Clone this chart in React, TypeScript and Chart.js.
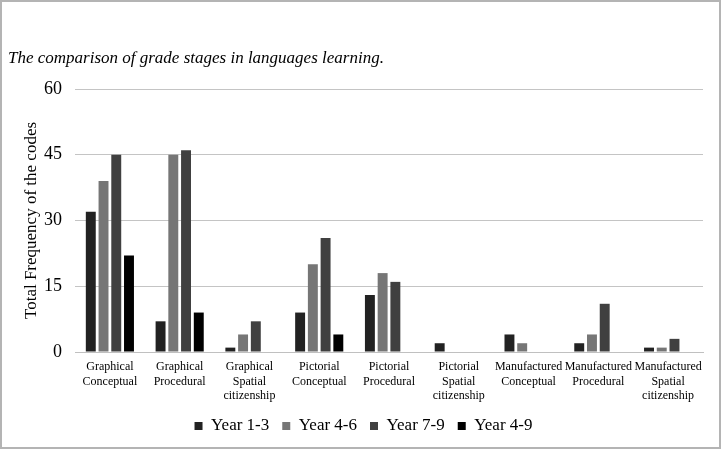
import React, { useEffect, useRef } from "react";
import { Chart, registerables } from "chart.js";

Chart.register(...registerables);

const categories: string[][] = [
  ["Graphical", "Conceptual"],
  ["Graphical", "Procedural"],
  ["Graphical", "Spatial", "citizenship"],
  ["Pictorial", "Conceptual"],
  ["Pictorial", "Procedural"],
  ["Pictorial", "Spatial", "citizenship"],
  ["Manufactured", "Conceptual"],
  ["Manufactured", "Procedural"],
  ["Manufactured", "Spatial", "citizenship"],
];

const year1to3 = [32, 7, 1, 9, 13, 2, 4, 2, 1];
const year4to6 = [39, 45, 4, 20, 18, 0, 2, 4, 1];
const year7to9 = [45, 46, 7, 26, 16, 0, 0, 11, 3];
const year4to9 = [22, 9, 0, 4, 0, 0, 0, 0, 0];

const seriesNames = ["Year 1-3", "Year 4-6", "Year 7-9", "Year 4-9"];
const seriesColors = ["#222222", "#767676", "#404040", "#000000"];

const titleText = "The comparison of grade stages in languages learning.";
const yAxisTitle = "Total Frequency of the codes";

const FONT = "'Liberation Serif', 'Times New Roman', serif";

const borderPlugin = {
  id: "outerBorder",
  afterDraw(chart: any) {
    const ctx = chart.ctx;
    ctx.save();
    ctx.strokeStyle = "#b4b4b4";
    ctx.lineWidth = 2;
    ctx.strokeRect(1, 1, chart.width - 2, chart.height - 2);
    ctx.restore();
  },
};

export default function App() {
  const ref = useRef<HTMLCanvasElement | null>(null);

  useEffect(() => {
    document.body.style.margin = "0";
    if (!ref.current) return;
    const data = [year1to3, year4to6, year7to9, year4to9];
    const chart = new Chart(ref.current, {
      type: "bar",
      data: {
        labels: categories,
        datasets: data.map((d, i) => ({
          label: seriesNames[i],
          data: d,
          yAxisID: "y",
          backgroundColor: seriesColors[i],
          borderWidth: 0,
          categoryPercentage: 0.73,
          barPercentage: 0.78,
        })),
      },
      options: {
        animation: false,
        responsive: false,
        maintainAspectRatio: false,
        layout: { padding: { left: 8, right: 2, top: 0, bottom: 4.5 } },
        plugins: {
          title: {
            display: true,
            text: titleText,
            align: "start",
            color: "#000",
            font: { family: FONT, size: 17, style: "italic", weight: "normal", lineHeight: 1.2 },
            padding: { top: 48, bottom: 20.6 },
          },
          legend: {
            position: "bottom",
            labels: {
              boxWidth: 8,
              boxHeight: 8,
              padding: 13,
              color: "#000",
              font: { family: FONT, size: 17 },
            },
          },
          tooltip: { enabled: false },
        },
        scales: {
          x: {
            grid: { display: false, drawTicks: false },
            border: { color: "#c0c0c0", width: 1 },
            ticks: {
              color: "#000",
              font: { family: FONT, size: 12, lineHeight: 1.22 },
              maxRotation: 0,
              autoSkip: false,
              padding: 7.7,
            },
            afterFit: (s: any) => {
              s.height = 52.5;
            },
          },
          y: {
            position: "left",
            min: 0,
            max: 60,
            ticks: {
              stepSize: 15,
              color: "#000",
              font: { family: FONT, size: 18 },
              padding: 13,
            },
            grid: { color: "#c4c4c4", drawTicks: false, lineWidth: 1 },
            border: { display: false },
            title: {
              display: true,
              text: yAxisTitle,
              color: "#000",
              font: { family: FONT, size: 17, lineHeight: 1.2 },
              padding: { top: 13.8, bottom: 2 },
            },
            afterFit: (s: any) => {
              s.width = 67;
            },
          },
          y2: {
            position: "right",
            display: true,
            grid: { display: false, drawTicks: false },
            border: { display: false },
            ticks: { display: false },
            afterFit: (s: any) => {
              s.width = 16;
            },
          },
        },
      },
      plugins: [borderPlugin],
    });
    return () => chart.destroy();
  }, []);

  return (
    <div style={{ position: "absolute", left: 0, top: 0, width: 721, height: 449 }}>
      <canvas ref={ref} width={721} height={449} style={{ display: "block" }} />
    </div>
  );
}
